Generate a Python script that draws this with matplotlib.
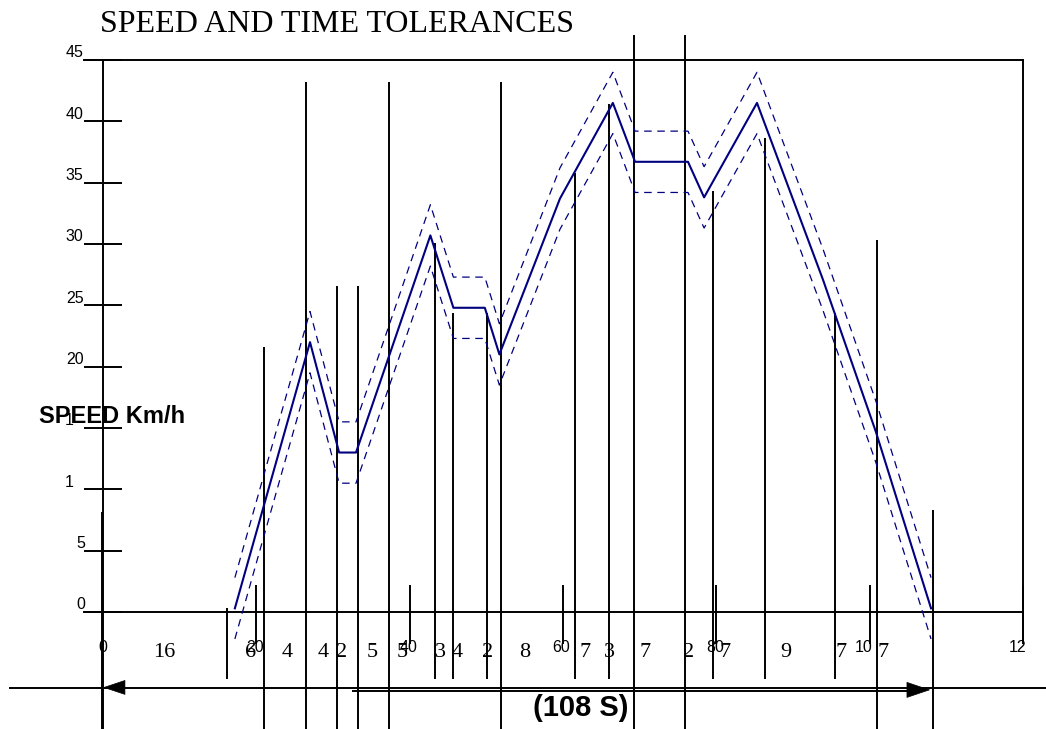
import matplotlib
matplotlib.use("Agg")
import matplotlib.pyplot as plt

# ---------------- data ----------------
title = "SPEED AND TIME TOLERANCES"
ylabel = "SPEED Km/h"
total_label = "(108 S)"

# speed profile (time s, speed km/h)
prof_t = [17.2, 27.0, 30.8, 33.0, 42.7, 45.7, 49.8, 51.7, 59.6, 66.5, 69.4, 76.3, 78.4, 85.3, 93.9, 100.8, 108.0]
prof_v = [0.3, 22.0, 13.0, 13.0, 30.7, 24.8, 24.8, 21.0, 33.7, 41.5, 36.7, 36.7, 33.8, 41.5, 27.1, 14.7, 0.3]
# tolerance bands
upper_v = [2.8, 24.5, 15.5, 15.5, 33.2, 27.3, 27.3, 23.5, 36.2, 44.0, 39.2, 39.2, 36.3, 44.0, 29.6, 17.2, 2.8]
lower_v = [-2.2, 19.5, 10.5, 10.5, 28.2, 22.3, 22.3, 18.5, 31.2, 39.0, 34.2, 34.2, 31.3, 39.0, 24.6, 12.2, -2.2]

# y axis ticks and the text visible at each
ytick_vals = [0, 5, 10, 15, 20, 25, 30, 35, 40, 45]
ytick_text = ['0', '5', '1', '1', '20', '25', '30', '35', '40', '45']
# x axis ticks and the text visible at each
xtick_vals = [0, 20, 40, 60, 80, 100, 120]
xtick_text = ['0', '20', '40', '60', '80', '10', '12']

# time segments (durations) and where they are written
seg_dur = [16, 6, 4, 4, 2, 5, 5, 3, 4, 2, 8, 7, 3, 7, 2, 7, 9, 7, 7]
seg_pos = [7.96, 19.3, 24.0, 28.7, 31.1, 35.1, 39.0, 44.0, 46.2, 50.2, 55.0, 62.9,
           66.0, 70.7, 76.4, 81.1, 89.0, 96.3, 101.7]

# vertical marker lines: time, top, bottom
vl_x = [16.2, 21.0, 26.5, 30.5, 33.3, 37.3, 43.3, 45.6, 50.1, 51.9, 61.5, 66.0,
        69.3, 75.85, 79.6, 86.4, 95.5, 100.9, 108.2]
vl_top = [0.3, 21.6, 43.2, 26.6, 26.6, 43.2, 30.1, 24.4, 24.4, 43.2, 35.8, 41.4,
          47.0, 47.0, 34.3, 38.6, 24.4, 30.3, 8.3]
vl_bot = [-5.5, -9.7, -9.7, -9.7, -9.7, -9.7, -5.5, -5.5, -5.5, -9.7, -5.5, -5.5,
          -9.7, -9.7, -5.5, -5.5, -5.5, -9.7, -9.7]

# ---------------- figure ----------------
fig = plt.figure(figsize=(10.46, 7.29), dpi=100)
ax = fig.add_axes([0, 0, 1, 1])
ax.set_axis_off()

sans = ['Liberation Sans', 'DejaVu Sans']
serif = ['Liberation Serif', 'DejaVu Serif']
navy = '#000080'
blk = 'black'
LW = 1.4

xmin, xmax = (0 - 103) / 7.667, (1046 - 103) / 7.667
ymin, ymax = (612 - 729) / 12.267, (612 - 0) / 12.267

# frame / axes
ax.plot([-2.5, 120], [45, 45], color=blk, lw=LW)
ax.plot([-2.5, 120], [0, 0], color=blk, lw=LW)
ax.plot([0, 0], [45, ymin - 1], color=blk, lw=LW)
ax.plot([-0.17, -0.17], [8.1, ymin - 1], color=blk, lw=LW)
ax.plot([120, 120], [45, -2.4], color=blk, lw=LW)

# y ticks
ax.hlines(ytick_vals, -2.5, 2.5, color=blk, lw=LW)
for v, t in zip(ytick_vals, ytick_text):
    if t == '1':
        xr = -3.78
    elif v < 10:
        xr = -2.35
    else:
        xr = -2.55
    ax.text(xr, v + 0.22, t, ha='right', va='baseline', fontsize=11.5, family=sans)

# x ticks
ax.vlines(xtick_vals[1:], -2.6, 2.2, color=blk, lw=LW)
for v, t in zip(xtick_vals, xtick_text):
    dx = -0.2 if v < 100 else -0.75
    if v == 0:
        dx = 0
    ax.text(v + dx, -3.24, t, ha='center', va='baseline', fontsize=11.5, family=sans)

# vertical marker lines
ax.vlines(vl_x, vl_bot, vl_top, color=blk, lw=LW)

# tolerance bands and profile
ax.plot(prof_t, upper_v, color=navy, lw=0.9, dashes=(6, 4.5))
ax.plot(prof_t, lower_v, color=navy, lw=0.9, dashes=(6, 4.5))
ax.plot(prof_t, prof_v, color=navy, lw=1.5)

# segment durations
for p, d in zip(seg_pos, seg_dur):
    ax.text(p, -3.64, str(d), ha='center', va='baseline', fontsize=16, family=serif)

# total duration arrow lines
ax.plot([xmin + 1.3, xmax], [-6.2, -6.2], color=blk, lw=LW)
ax.plot([32.6, 105.0], [-6.44, -6.44], color=blk, lw=LW)
ax.annotate('', xy=(0, -6.15), xytext=(2.75, -6.15),
            arrowprops=dict(arrowstyle='-|>,head_length=15,head_width=5',
                            mutation_scale=1, color=blk, lw=0.5,
                            shrinkA=0, shrinkB=0))
ax.annotate('', xy=(107.9, -6.35), xytext=(104.9, -6.35),
            arrowprops=dict(arrowstyle='-|>,head_length=16,head_width=5.4',
                            mutation_scale=1, color=blk, lw=0.5,
                            shrinkA=0, shrinkB=0))
ax.text(62.3, -8.45, total_label, ha='center', va='baseline', fontsize=21,
        fontweight='bold', family=sans)

# title and speed label
ax.text(-0.39, 47.3, title, ha='left', va='baseline', fontsize=23, family=serif)
ax.text(-8.31, 15.43, ylabel, ha='left', va='baseline', fontsize=17,
        fontweight='bold', family=sans)

ax.set_xlim(xmin, xmax)
ax.set_ylim(ymin, ymax)

fig.savefig('out.png', dpi=100)
